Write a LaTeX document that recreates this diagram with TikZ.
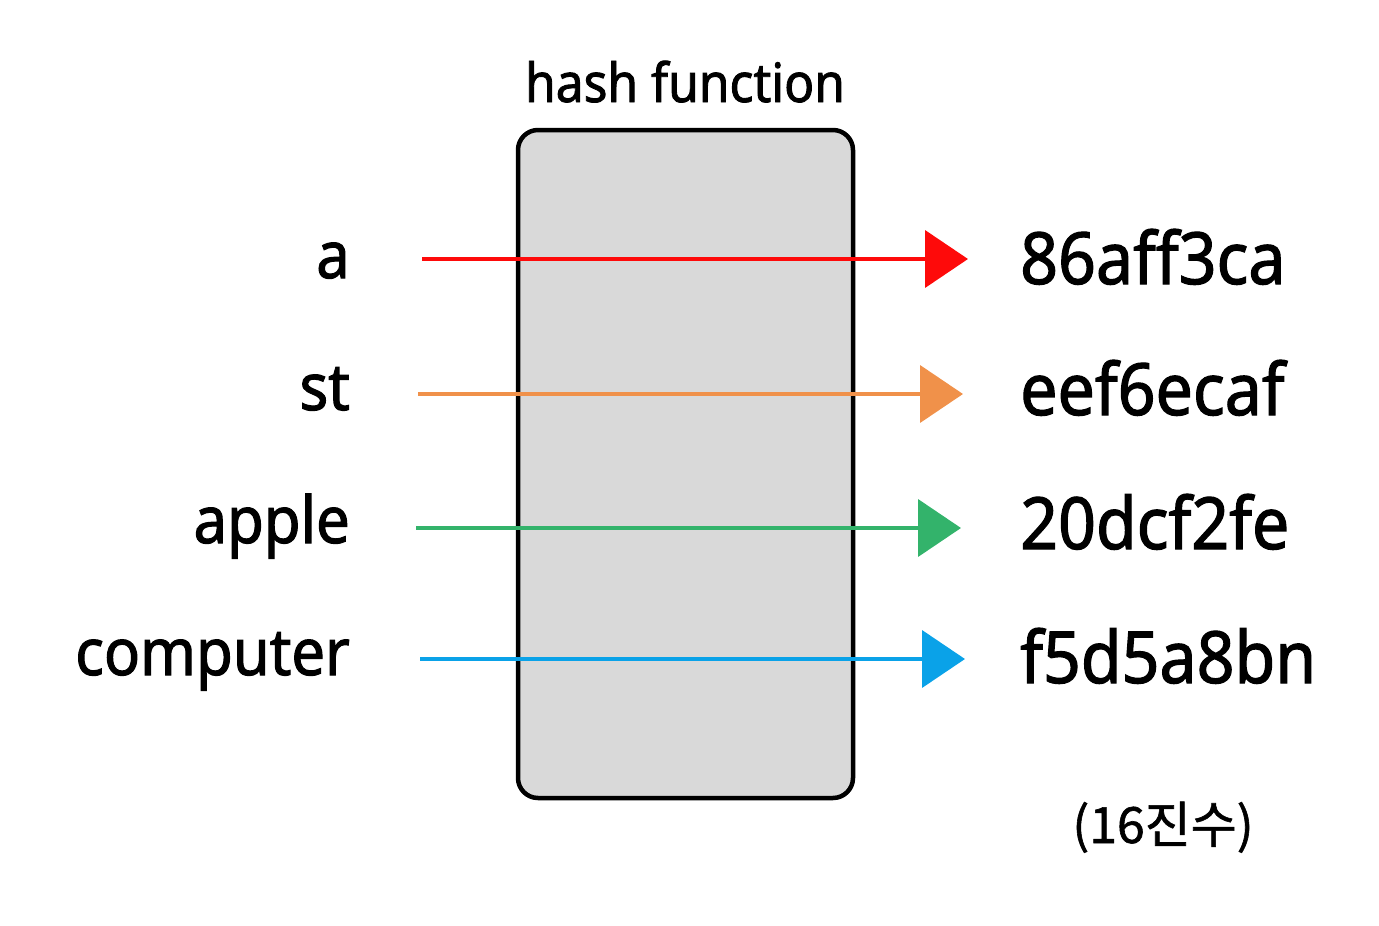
\documentclass[tikz,border=0pt]{standalone}
\usepackage{fontspec}
\setmainfont{Noto Sans}[FakeStretch=0.92, FakeBold=1.6, Ligatures=NoCommon]
\newfontfamily\krfont{Noto Sans CJK KR}[FakeBold=1.2]
\usetikzlibrary{arrows.meta}
\definecolor{boxgray}{HTML}{D9D9D9}
\definecolor{ared}{HTML}{FE0A0A}
\definecolor{aorange}{HTML}{F0914A}
\definecolor{agreen}{HTML}{33B36B}
\definecolor{ablue}{HTML}{0AA2E8}
\tikzset{
  hashbox/.style={draw=black, line width=4.5pt, fill=boxgray, rounded corners=20pt,
    minimum width=335pt, minimum height=668pt, inner sep=0pt},
  inlabel/.style={anchor=base east, inner sep=0pt, font=\fontsize{65}{70}\selectfont},
  outlabel/.style={anchor=base west, inner sep=0pt, font=\fontsize{72}{78}\selectfont},
  flow/.style={line width=4pt, -{Triangle[length=43pt,width=57pt]}},
}
\begin{document}
\begin{tikzpicture}[x=1pt,y=-1pt]
\useasboundingbox (0,0) rectangle (1379,926);
\node[hashbox] (box) at (685.5,464) {};
\node[anchor=base, inner sep=0pt, font=\fontsize{54}{60}\selectfont] (title) at (685,102) {hash function};

\node[inlabel] (ia) at (350,278) {a};
\node[inlabel] (ist) at (350,410) {st};
\node[inlabel] (iapple) at (350,543) {apple};
\node[inlabel] (icomp) at (350,675) {computer};

\node[outlabel] (oa) at (1020,284) {86aff3ca};
\node[outlabel] (ost) at (1020,415) {eef6ecaf};
\node[outlabel] (oapple) at (1020,549) {20dcf2fe};
\node[outlabel] (ocomp) at (1020,683) {f5d5a8bn};

\node[anchor=base, inner sep=0pt, font=\krfont\fontsize{50}{56}\selectfont] (hex) at (1163,843) {(16진수)};

\coordinate (sa) at (422,259);  \coordinate (ea) at (968,259);
\coordinate (sst) at (418,394); \coordinate (est) at (963,394);
\coordinate (sap) at (416,528); \coordinate (eap) at (961,528);
\coordinate (sco) at (420,659); \coordinate (eco) at (965,659);

\draw[flow, ared] (sa) -- (ea);
\draw[flow, aorange] (sst) -- (est);
\draw[flow, agreen] (sap) -- (eap);
\draw[flow, ablue] (sco) -- (eco);
\end{tikzpicture}
\end{document}
